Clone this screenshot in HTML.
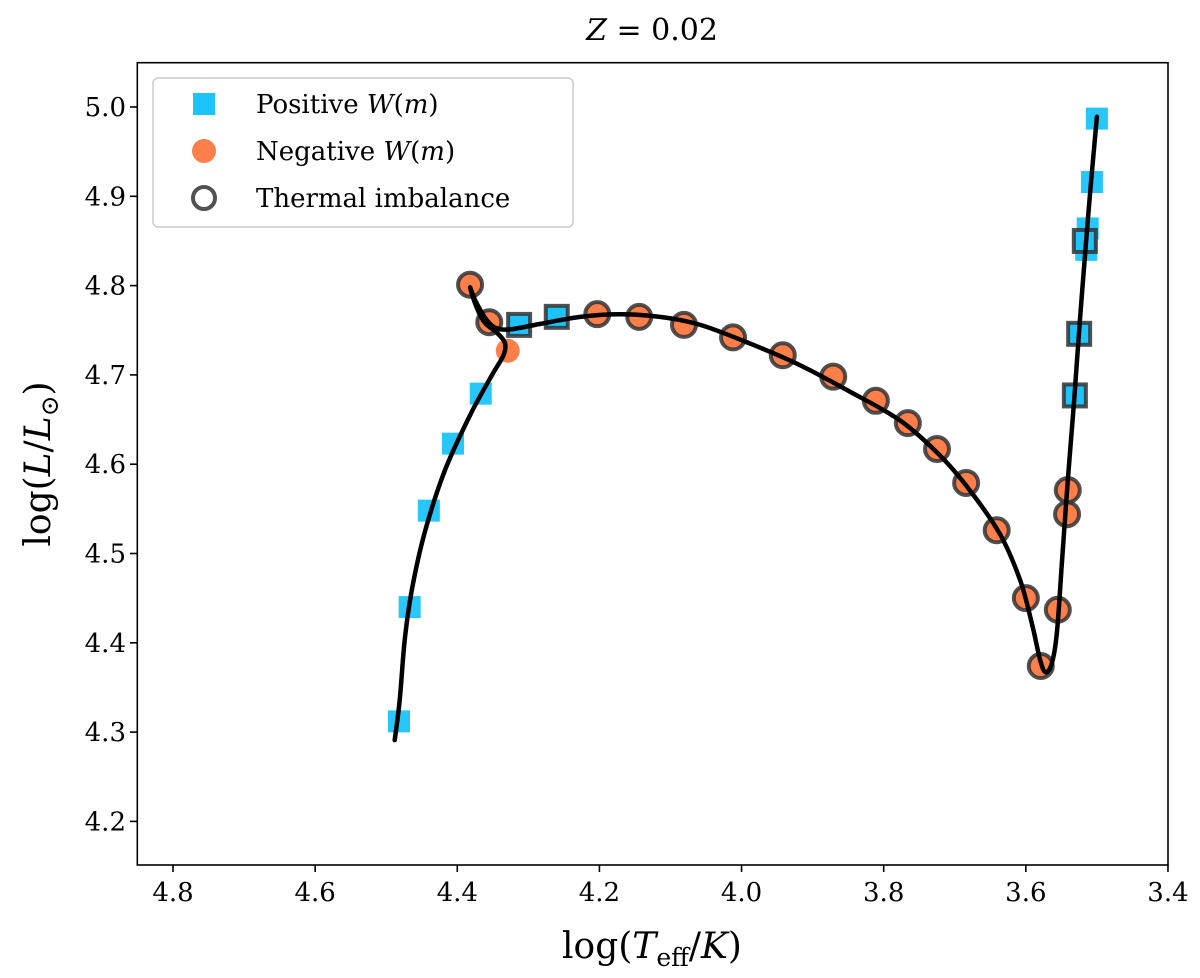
<!DOCTYPE html>
<html><head><meta charset="utf-8"><style>
body{margin:0;background:#fff}
svg{display:block}
text{font-family:"DejaVu Serif","Liberation Serif",serif;fill:#000}
</style></head><body>
<svg id="chart" width="1200" height="978" viewBox="0 0 1200 978" xmlns="http://www.w3.org/2000/svg">
<rect width="1200" height="978" fill="#fff"/>
<text x="652" y="40" font-size="30" text-anchor="middle"><tspan font-style="italic">Z</tspan> = 0.02</text>
<g id="ticks"></g>
<g id="marks"></g>
<rect x="137.3" y="62.7" width="1030.7" height="802.3" fill="none" stroke="#000" stroke-width="1.6"/>
<text x="652" y="958" font-size="36" text-anchor="middle">log(<tspan font-style="italic">T</tspan><tspan font-size="25" dy="8">eff</tspan><tspan dy="-8">/</tspan><tspan font-style="italic">K</tspan>)</text>
<text transform="translate(50,464) rotate(-90)" font-size="36" text-anchor="middle">log(<tspan font-style="italic">L</tspan>/<tspan font-style="italic">L</tspan><tspan font-size="25" dy="8">⊙</tspan><tspan dy="-8">)</tspan></text>
<g>
<rect x="153" y="78" width="420" height="149" rx="5" fill="#fff" fill-opacity="0.85" stroke="#ccc" stroke-width="1.5"/>
<rect x="193" y="93" width="22" height="22" fill="#1cc4fb"/>
<text x="256" y="113" font-size="26">Positive <tspan font-style="italic">W</tspan>(<tspan font-style="italic">m</tspan>)</text>
<circle cx="204" cy="151" r="12" fill="#ff7f4b"/>
<text x="256" y="160" font-size="26">Negative <tspan font-style="italic">W</tspan>(<tspan font-style="italic">m</tspan>)</text>
<circle cx="204" cy="198" r="11" fill="none" stroke="#333" stroke-opacity="0.85" stroke-width="4"/>
<text x="256" y="207" font-size="26">Thermal imbalance</text>
</g>
</svg>
<script>
const xTicks=[4.8,4.6,4.4,4.2,4.0,3.8,3.6,3.4];
const yTicks=[4.2,4.3,4.4,4.5,4.6,4.7,4.8,4.9,5.0];
const posX=[4.482,4.467,4.440,4.406,4.367,3.500,3.507,3.513,3.515];
const posY=[4.312,4.440,4.548,4.623,4.679,4.987,4.916,4.864,4.840];
const posThermX=[4.313,4.260,3.517,3.525,3.531];
const posThermY=[4.756,4.765,4.850,4.746,4.677];
const negX=[4.329];
const negY=[4.727];
const negThermX=[4.382,4.355,4.203,4.144,4.081,4.012,3.942,3.871,3.811,3.766,3.725,3.684,3.641,3.600,3.579,3.555,3.542,3.541];
const negThermY=[4.801,4.759,4.768,4.765,4.756,4.742,4.722,4.698,4.671,4.646,4.617,4.579,4.526,4.450,4.374,4.437,4.544,4.571];
const trackX=[4.488,4.481,4.474,4.464,4.445,4.417,4.382,4.351,4.335,4.333,4.344,4.362,4.374,4.382,4.375,4.361,4.347,4.326,4.284,4.227,4.171,4.115,4.058,3.988,3.918,3.847,3.777,3.721,3.679,3.636,3.608,3.591,3.580,3.572,3.563,3.556,3.549,3.541,3.532,3.524,3.515,3.508,3.500];
const trackY=[4.291,4.336,4.403,4.459,4.526,4.594,4.655,4.700,4.722,4.736,4.747,4.759,4.778,4.798,4.784,4.764,4.753,4.751,4.757,4.765,4.768,4.765,4.756,4.735,4.711,4.681,4.649,4.610,4.571,4.521,4.470,4.420,4.381,4.367,4.378,4.414,4.493,4.582,4.672,4.761,4.851,4.918,4.989];

const NS='http://www.w3.org/2000/svg';
function sx(v){return 173+(4.8-v)*710.7;}
function sy(v){return 107+(5.0-v)*893;}
function mk(tag,attrs,parent){const e=document.createElementNS(NS,tag);for(const k in attrs)e.setAttribute(k,attrs[k]);parent.appendChild(e);return e;}
const tg=document.getElementById('ticks');
xTicks.forEach(t=>{
  const l=mk('line',{x1:sx(t),x2:sx(t),y1:865,y2:872,stroke:'#000','stroke-width':1.6},tg);
  
  
  const tx=mk('text',{x:sx(t),y:901,'font-size':26,'text-anchor':'middle'},tg);
  tx.textContent=t.toFixed(1);
  
  
});
yTicks.forEach(t=>{
  const l=mk('line',{x1:130,x2:137.3,y1:sy(t),y2:sy(t),stroke:'#000','stroke-width':1.6},tg);
  
  
  const tx=mk('text',{x:126,y:sy(t)+9,'font-size':26,'text-anchor':'end'},tg);
  tx.textContent=t.toFixed(1);
  
  
});
const mg=document.getElementById('marks');
const BLUE='#1cc4fb',ORANGE='#ff7f4b';
posX.forEach((x,i)=>{
  const r=mk('rect',{x:sx(x)-11,y:sy(posY[i])-11,width:22,height:22,fill:BLUE,'fill-opacity':0.95},mg);
  
  
});
posThermX.forEach((x,i)=>{
  const r=mk('rect',{x:sx(x)-11,y:sy(posThermY[i])-11,width:22,height:22,fill:BLUE,stroke:'#333','stroke-opacity':0.85,'stroke-width':4},mg);
  
  
});
negX.forEach((x,i)=>{
  const c=mk('circle',{cx:sx(x),cy:sy(negY[i]),r:12,fill:ORANGE},mg);
  
  
});
negThermX.forEach((x,i)=>{
  const c=mk('circle',{cx:sx(x),cy:sy(negThermY[i]),r:12,fill:ORANGE,stroke:'#333','stroke-opacity':0.85,'stroke-width':4},mg);
  
  
});
const P=trackX.map((x,i)=>[sx(x),sy(trackY[i])]);
let d='M'+P[0][0].toFixed(1)+','+P[0][1].toFixed(1);
for(let i=0;i<P.length-1;i++){
  const p0=P[Math.max(i-1,0)],p1=P[i],p2=P[i+1],p3=P[Math.min(i+2,P.length-1)];
  const c1=[p1[0]+(p2[0]-p0[0])/6,p1[1]+(p2[1]-p0[1])/6];
  const c2=[p2[0]-(p3[0]-p1[0])/6,p2[1]-(p3[1]-p1[1])/6];
  d+='C'+c1[0].toFixed(1)+','+c1[1].toFixed(1)+' '+c2[0].toFixed(1)+','+c2[1].toFixed(1)+' '+p2[0].toFixed(1)+','+p2[1].toFixed(1);
}
const p=mk('path',{d:d,fill:'none',stroke:'#000','stroke-width':4.5,'stroke-linejoin':'round','stroke-linecap':'round'},mg);


</script>
</body></html>
